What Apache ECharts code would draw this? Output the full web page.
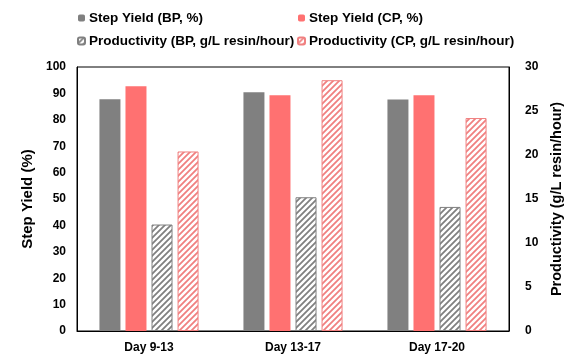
<!DOCTYPE html>
<html><head><meta charset="utf-8">
<script src="https://cdn.jsdelivr.net/npm/echarts@6/dist/echarts.min.js"></script>
<style>html,body{margin:0;padding:0;background:#fff}#c{width:582px;height:362px}</style>
</head><body><div id="c"></div>
<script>
const categories = ['Day 9-13', 'Day 13-17', 'Day 17-20'];
const yieldBP = [87.8, 90.4, 87.7];
const yieldCP = [92.7, 89.3, 89.3];
const prodBP = [12.1, 15.2, 14.1];
const prodCP = [20.4, 28.5, 24.2];
const leftTicks = [0, 100, 10];
const rightTicks = [0, 30, 5];
const names = ['Step Yield (BP, %)', 'Step Yield (CP, %)', 'Productivity (BP, g/L resin/hour)', 'Productivity (CP, g/L resin/hour)'];

function hatch(color) {
  const s = 6;
  const c = document.createElement('canvas');
  c.width = s; c.height = s;
  const g = c.getContext('2d');
  g.fillStyle = '#fff'; g.fillRect(0, 0, s, s);
  g.strokeStyle = color; g.lineWidth = 1.8;
  g.beginPath();
  g.moveTo(0, s); g.lineTo(s, 0);
  g.moveTo(-s/2, s/2); g.lineTo(s/2, -s/2);
  g.moveTo(s/2, s*1.5); g.lineTo(s*1.5, s/2);
  g.stroke();
  return { image: c, repeat: 'repeat' };
}
const gray = '#808080', red = '#FF7171', redLine = '#F08080';
const font = { fontFamily: 'Liberation Sans', fontWeight: 'bold', color: '#000' };
const legendBase = {
  orient: 'vertical', itemWidth: 7, itemHeight: 7, itemGap: 9, padding: 0,
  textStyle: Object.assign({ fontSize: 13.5, padding: [0,0,0,-1] }, font)
};
const chart = echarts.init(document.getElementById('c'));
chart.setOption({
  animation: false,
  grid: { left: 77, right: 73, top: 67, bottom: 31, show: true, borderColor: '#000', borderWidth: 1, backgroundColor: 'transparent' },
  legend: [
    Object.assign({ left: 77, top: 11, data: [names[0], names[2]] }, legendBase),
    Object.assign({ left: 297, top: 11, data: [names[1], names[3]] }, legendBase)
  ],
  xAxis: {
    type: 'category', data: categories,
    axisLine: { lineStyle: { color: '#000' } }, axisTick: { show: false },
    axisLabel: Object.assign({ fontSize: 12, margin: 11 }, font)
  },
  yAxis: [
    { type: 'value', min: leftTicks[0], max: leftTicks[1], interval: leftTicks[2],
      name: 'Step Yield (%)', nameLocation: 'middle', nameGap: 35,
      nameTextStyle: Object.assign({ fontSize: 15 }, font),
      axisLine: { show: true, lineStyle: { color: '#000' } }, axisTick: { show: false },
      splitLine: { show: false }, axisLabel: Object.assign({ fontSize: 12, margin: 11 }, font) },
    { type: 'value', min: rightTicks[0], max: rightTicks[1], interval: rightTicks[2],
      name: 'Productivity (g/L resin/hour)', nameLocation: 'middle', nameGap: 27,
      nameTextStyle: Object.assign({ fontSize: 14.5 }, font),
      axisLine: { show: true, lineStyle: { color: '#000' } }, axisTick: { show: false },
      splitLine: { show: false }, axisLabel: Object.assign({ fontSize: 12, margin: 16 }, font) }
  ],
  series: [
    { name: names[0], type: 'bar', yAxisIndex: 0, data: yieldBP, barWidth: 21, barGap: '24%', itemStyle: { color: gray } },
    { name: names[1], type: 'bar', yAxisIndex: 0, data: yieldCP, barWidth: 21, barGap: '24%', itemStyle: { color: red } },
    { name: names[2], type: 'bar', yAxisIndex: 1, data: prodBP, barWidth: 21, barGap: '24%', itemStyle: { color: hatch(gray), borderColor: gray, borderWidth: 1 } },
    { name: names[3], type: 'bar', yAxisIndex: 1, data: prodCP, barWidth: 21, barGap: '24%', itemStyle: { color: hatch(redLine), borderColor: redLine, borderWidth: 1 } }
  ]
});
</script></body></html>
